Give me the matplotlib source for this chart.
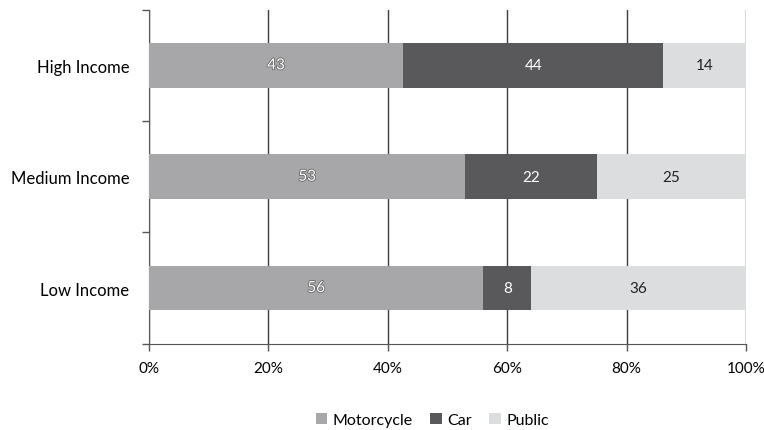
import numpy as np
import matplotlib
matplotlib.use("Agg")
import matplotlib.pyplot as plt
import matplotlib.patheffects as pe

plt.rcParams['font.family'] = ['Lato', 'DejaVu Sans']

groups = ["Low Income", "Medium Income", "High Income"]
motorcycle = [56, 53, 43]
car = [8, 22, 44]
public = [36, 25, 14]

series = [("Motorcycle", motorcycle, "#A7A7A9", "white"),
          ("Car", car, "#59595B", "white"),
          ("Public", public, "#DCDDDE", "#222222")]

totals = np.array(motorcycle) + np.array(car) + np.array(public)

fig = plt.figure(figsize=(7.64, 4.31), dpi=100)
ax = fig.add_axes([0.195, 0.2002, 0.7815, 0.775])

y = np.arange(len(groups))
left = np.zeros(len(groups))
for name, vals, color, tcol in series:
    share = np.array(vals) / totals
    ax.barh(y, share, left=left, height=0.40, color=color, label=name, zorder=3)
    for yi, (l, w, v) in enumerate(zip(left, share, vals)):
        t = ax.text(l + w / 2, yi, str(v), ha="center", va="center",
                    color=tcol, fontsize=11, zorder=4)
        if name == "Motorcycle":
            t.set_path_effects([pe.withStroke(linewidth=1.2, foreground="#666666")])
    left += share

ax.set_xlim(0, 1)
ax.set_ylim(-0.5, 2.5)
ax.set_xticks(np.linspace(0, 1, 6))
ax.set_xticklabels([f"{int(p)}%" for p in np.linspace(0, 100, 6)], fontsize=11)
ax.xaxis.grid(True, color="#3A3A3A", linewidth=1, zorder=0)

ax.set_yticks([-0.5, 0.5, 1.5, 2.5])
ax.set_yticklabels([])
ax.set_yticks(y, minor=True)
ax.set_yticklabels(groups, minor=True, fontsize=12)
ax.tick_params(axis="y", which="minor", length=0, pad=14)
ax.tick_params(axis="y", which="major", length=5, color="#555555", width=1)
ax.tick_params(axis="x", length=5, color="#555555", width=1, pad=7.5)

for s in ["top", "right"]:
    ax.spines[s].set_visible(False)
for s in ["left", "bottom"]:
    ax.spines[s].set_color("#555555")

fig.legend(loc="center", bbox_to_anchor=(0.566, 0.023), ncol=3, frameon=False,
           fontsize=11.5, handlelength=0.7, handleheight=0.7, handletextpad=0.35,
           columnspacing=1.1)

fig.savefig("out.png", dpi=100)
